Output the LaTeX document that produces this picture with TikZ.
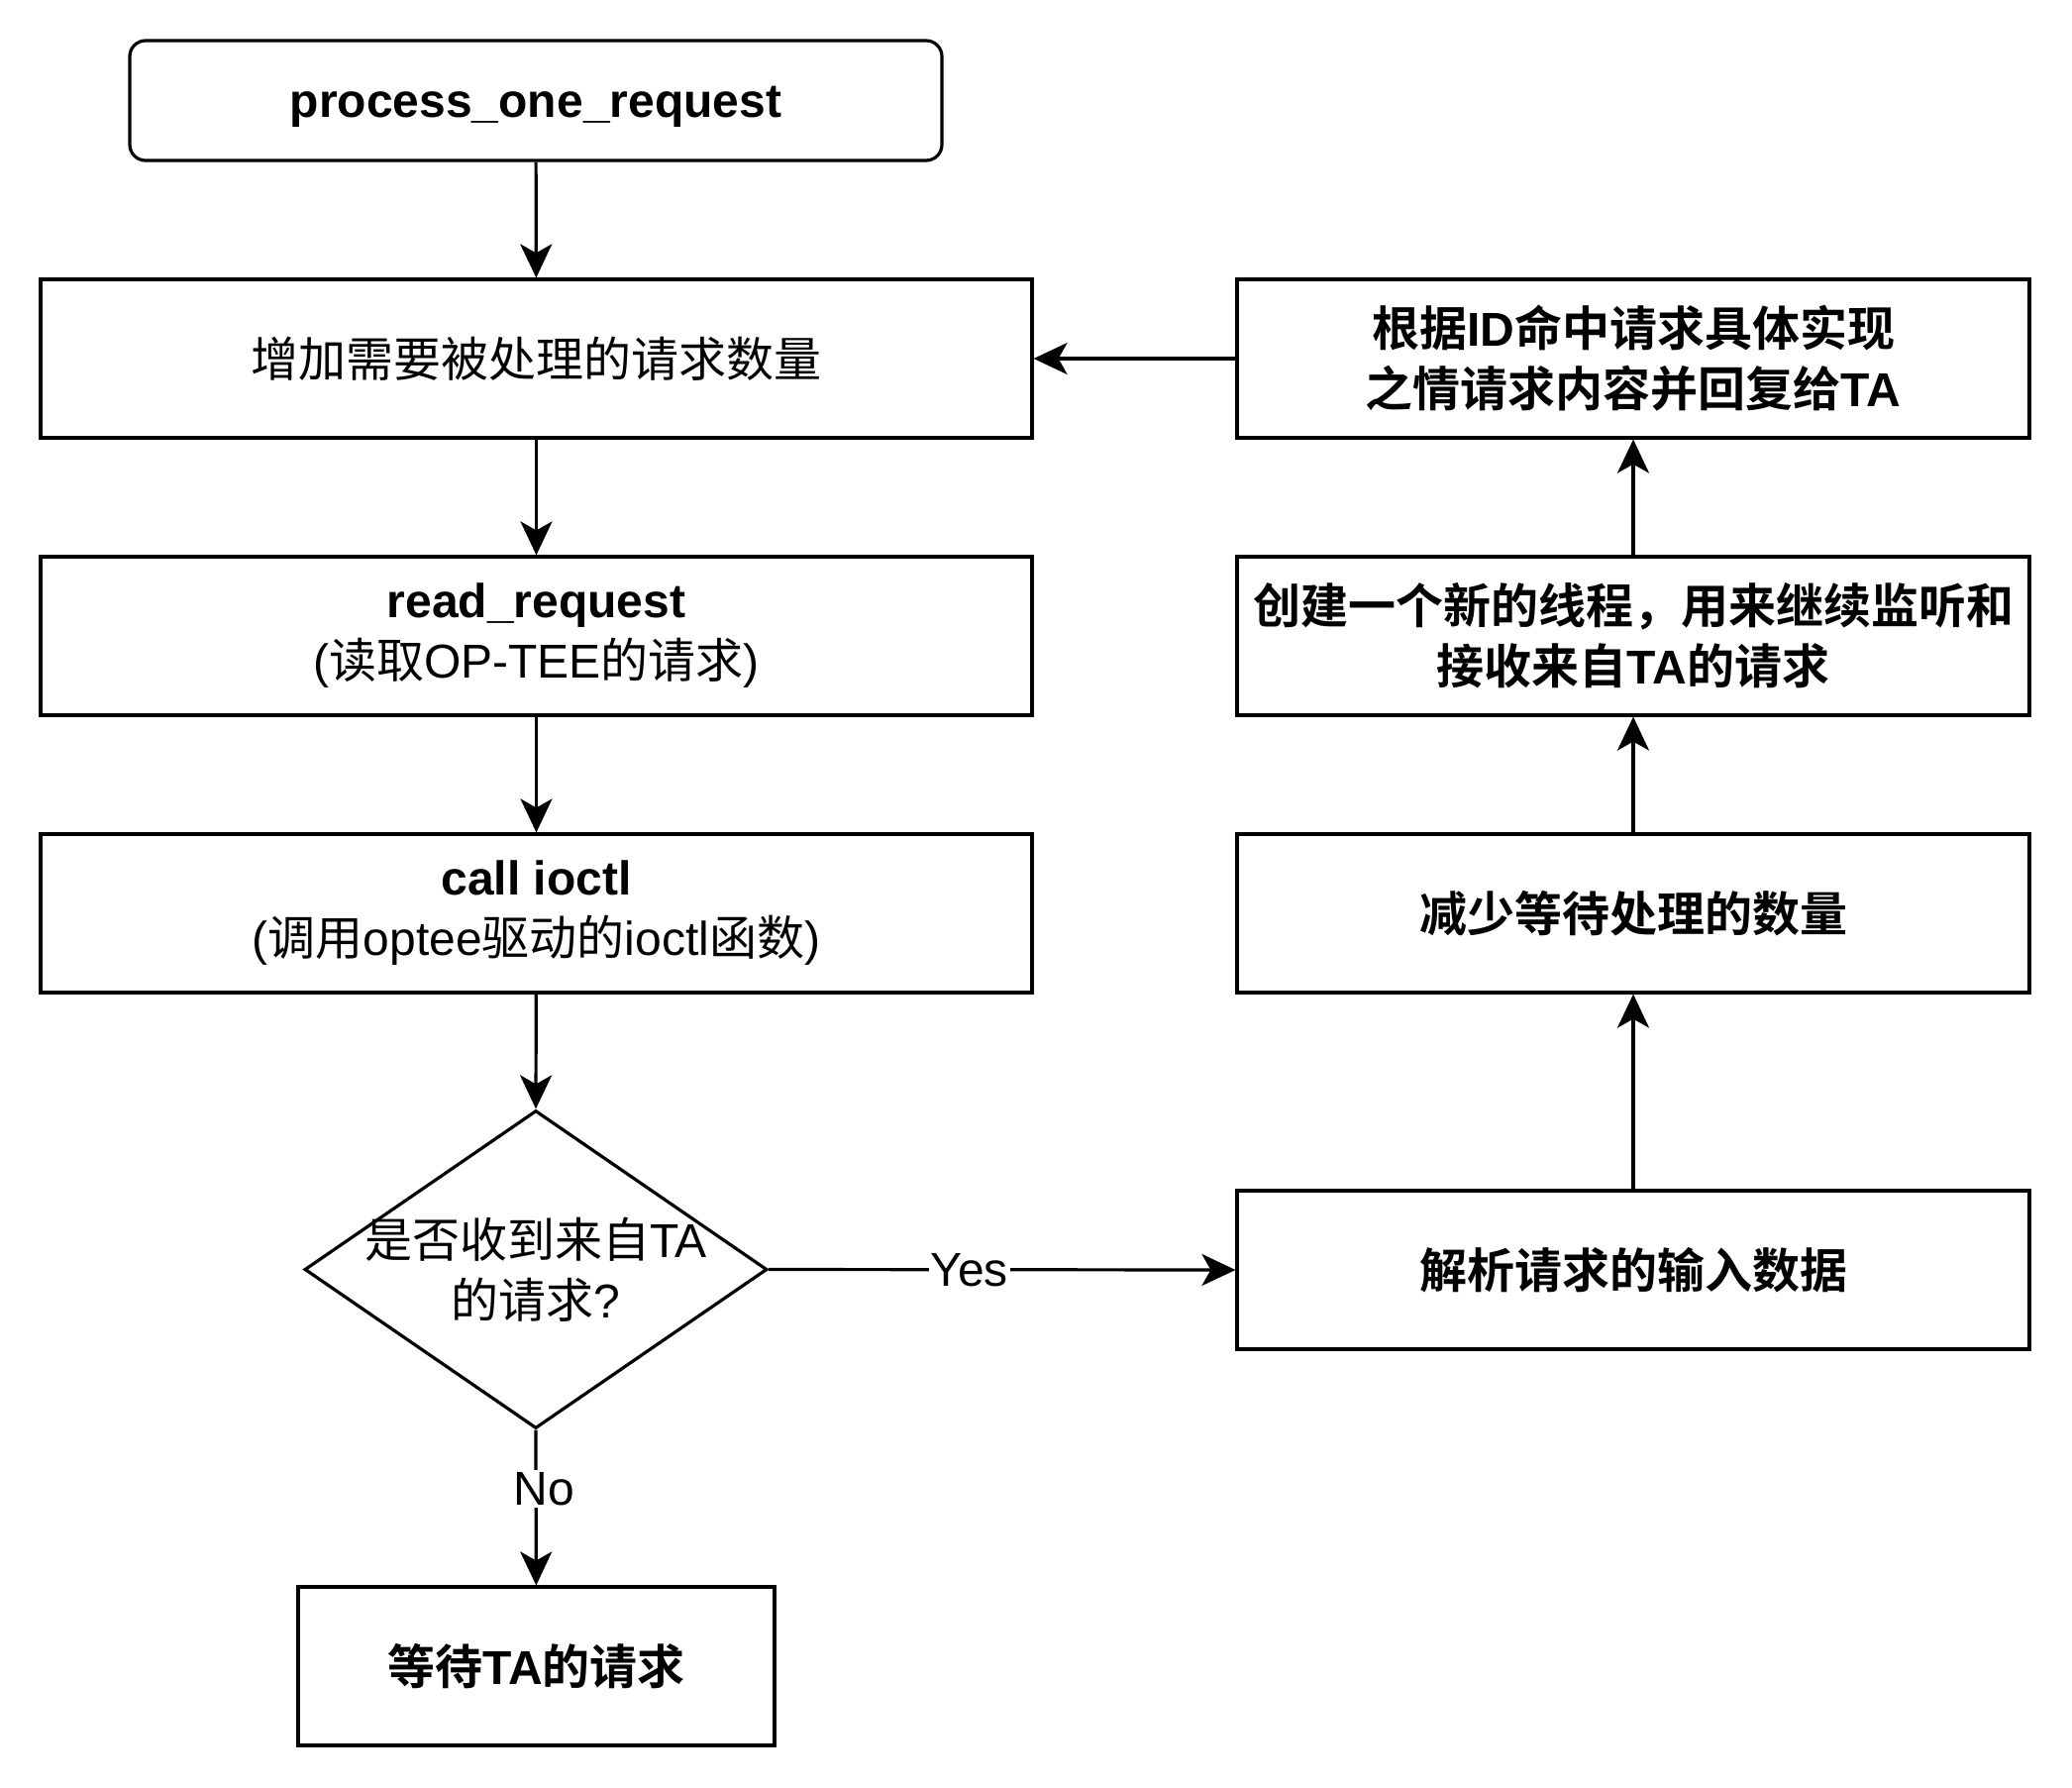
\documentclass[tikz,border=0pt]{standalone}
\usepackage{fontspec}
\setmainfont{Liberation Sans}
\newfontfamily\cjk{Noto Sans CJK SC}[BoldFont={Noto Sans CJK SC Bold}]
\usetikzlibrary{shapes.geometric,arrows.meta}
\newcommand\C[1]{{\cjk #1}}
\begin{document}
\begin{tikzpicture}[x=0.5pt,y=-0.5pt,
  txt/.style={font=\fontsize{24pt}{30.5pt}\selectfont},
  box/.style={txt,draw,line width=1.6pt,inner sep=0pt,align=center,minimum height=80pt},
  lbox/.style={box,minimum width=500.5pt},
  rbox/.style={box,minimum width=400pt},
  arr/.style={line width=1.6pt,-{Stealth[length=17pt,width=16pt,inset=4.5pt]}},
  lbl/.style={txt,fill=white,inner sep=1pt}]
\useasboundingbox (0,0) rectangle (2092,1804);
% left column
\node[box,rounded corners=8pt,minimum width=410pt,minimum height=60.5pt,text height=20pt,text depth=3pt] (top) at (541,101.5) {\textbf{process\_one\_request}};
\node[lbox] (inc) at (541.5,362) {\C{增加需要被处理的请求数量}};
\node[lbox] (read) at (541.5,642) {\textbf{read\_request}\\(\C{读取}OP-TEE\C{的请求})};
\node[lbox] (call) at (541.5,922) {\textbf{call ioctl}\\(\C{调用}optee\C{驱动的}ioctl\C{函数})};
\node[draw,diamond,line width=1.6pt,inner sep=0pt,minimum width=233.5pt,minimum height=160.5pt] (dec) at (541,1281.5) {};
\node[txt,align=center,inner sep=0pt] (dectext) at (dec.center) {\C{是否收到来自}TA\\\C{的请求}?};
\node[box,minimum width=240.5pt] (wait) at (541.5,1682) {\textbf{\C{等待}TA\C{的请求}}};
% right column
\node[rbox] (r1) at (1649,362) {\textbf{\C{根据}ID\C{命中请求具体实现}}\\\textbf{\C{之情请求内容并回复给}TA}};
\node[rbox] (r2) at (1649,642) {\textbf{\C{创建一个新的线程，用来继续监听和}}\\\textbf{\C{接收来自}TA\C{的请求}}};
\node[rbox] (r3) at (1649,922) {\textbf{\C{减少等待处理的数量}}};
\node[rbox] (r4) at (1649,1282) {\textbf{\C{解析请求的输入数据}}};
% connectors
\draw[arr] (top) -- (inc);
\draw[arr] (inc) -- (read);
\draw[arr] (read) -- (call);
\draw[arr] (call) -- (dec.north);
\draw[arr] (dec.south) -- node[lbl,pos=0.38,xshift=4pt] {No} (wait);
\draw[arr] (dec.east) -- node[lbl,pos=0.43] {Yes} (r4.west);
\draw[arr] (r4) -- (r3);
\draw[arr] (r3) -- (r2);
\draw[arr] (r2) -- (r1);
\draw[arr] (r1.west) -- (inc.east);
\end{tikzpicture}
\end{document}
